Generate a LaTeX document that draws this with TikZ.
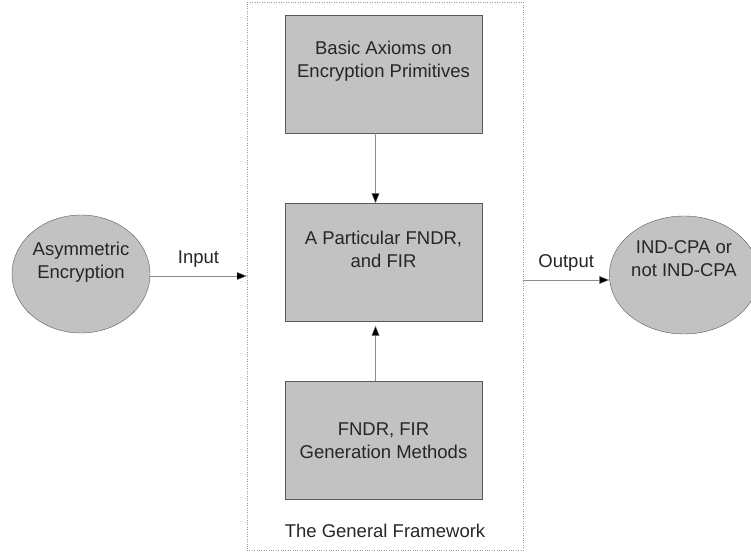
\documentclass[tikz,border=0pt]{standalone}
\usepackage{fontspec}
\setmainfont{Liberation Sans}
\usetikzlibrary{positioning,arrows.meta,shapes.geometric}
\definecolor{boxgray}{HTML}{C2C2C2}
\definecolor{edgegray}{HTML}{5A5A5A}
\tikzset{
  blk/.style={rectangle, draw=edgegray, fill=boxgray, text=black!85,
              align=center, minimum width=197pt, minimum height=118pt,
              inner sep=3pt, font=\fontsize{18.5}{23}\selectfont},
  io/.style={ellipse, draw=edgegray, fill=boxgray, text=black!85,
             align=center, minimum width=138pt, minimum height=118pt,
             inner sep=0pt, font=\fontsize{18.5}{23}\selectfont},
  lbl/.style={text=black!85, font=\fontsize{18.5}{23}\selectfont},
  flowarr/.style={draw=black!45, -{Triangle[length=10pt,width=8pt,fill=black]}},
}
\begin{document}
\begin{tikzpicture}[x=1pt,y=-1pt]
\useasboundingbox (0,0) rectangle (751,553);
% dotted frame of the framework
\node[draw=black!40, dotted, minimum width=276pt, minimum height=548pt,
      inner sep=0pt] (frame) at (385,276) {};
\node[lbl] (fwlbl) at (385,531) {The General Framework};
% blocks inside the framework
\node[blk] (axioms) at (383.5,74) {Basic Axioms on\\Encryption Primitives\\[6pt]};
\node[blk] (fndr) at (383.5,262.5) {A Particular FNDR,\\and FIR\\[4pt]};
\node[blk] (gen) at (383.5,440.5) {FNDR, FIR\\Generation Methods};
% input and output
\node[io] (asym) at (81,274) {Asymmetric\\Encryption\\[4pt]};
\node[io] (result) at (684,275) {IND-CPA or\\not IND-CPA\\[10pt]};
\draw[flowarr] ([yshift=-2pt]asym.east) -- ([yshift=-2pt]asym.east -| frame.west)
  node[lbl, midway, above=5pt] (inlbl) {Input};
\draw[flowarr] ([yshift=-5pt]result.west -| frame.east) -- ([yshift=-5pt]result.west)
  node[lbl, midway, above=5pt] (outlbl) {Output};
\draw[flowarr] ([xshift=-8pt]axioms.south) -- ([xshift=-8pt]fndr.north);
\draw[flowarr, shorten >=4pt] ([xshift=-8pt]gen.north) -- ([xshift=-8pt]fndr.south);
\end{tikzpicture}
\end{document}
